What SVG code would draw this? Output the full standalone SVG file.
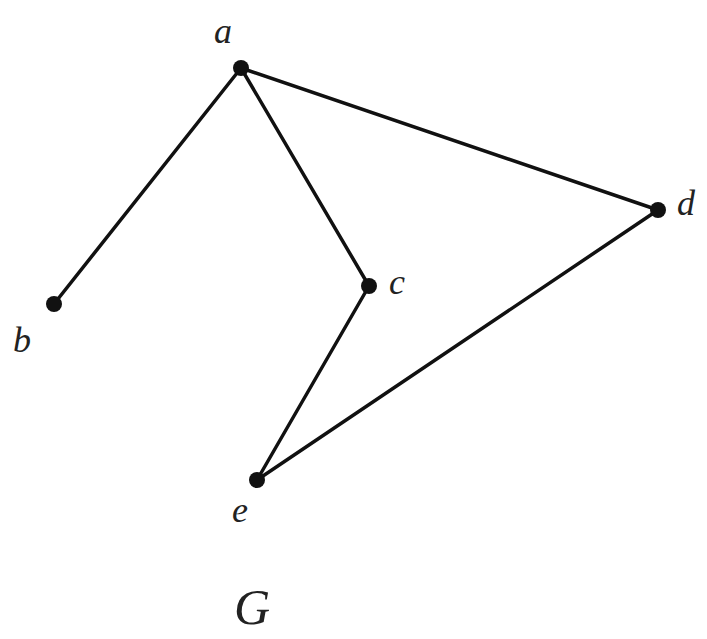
<svg xmlns="http://www.w3.org/2000/svg" width="707" height="639" viewBox="0 0 707 639">
<style>
.edge{stroke:#111;stroke-width:3.5;fill:none;stroke-linecap:round}
.node{fill:#111}
.lbl{font-family:"Liberation Serif",serif;font-style:italic;font-size:36px;fill:#222}
.title{font-size:50px}
</style>
<rect width="707" height="639" fill="#fff"/>
<g id="connectors">
<line class="edge" x1="241" y1="68" x2="54" y2="304"/>
<line class="edge" x1="241" y1="68" x2="369" y2="286"/>
<line class="edge" x1="241" y1="68" x2="658" y2="210"/>
<line class="edge" x1="369" y1="286" x2="257" y2="480"/>
<line class="edge" x1="658" y1="210" x2="257" y2="480"/>
</g>
<g id="node-a"><circle class="node" cx="241" cy="68" r="8"/><text class="lbl" x="214" y="43">a</text></g>
<g id="node-b"><circle class="node" cx="54" cy="304" r="8"/><text class="lbl" x="13" y="352">b</text></g>
<g id="node-c"><circle class="node" cx="369" cy="286" r="8"/><text class="lbl" x="389" y="294">c</text></g>
<g id="node-d"><circle class="node" cx="658" cy="210" r="8"/><text class="lbl" x="677" y="215">d</text></g>
<g id="node-e"><circle class="node" cx="257" cy="480" r="8"/><text class="lbl" x="232" y="522">e</text></g>
<text id="graph-label" class="lbl title" x="234" y="624">G</text>
</svg>
